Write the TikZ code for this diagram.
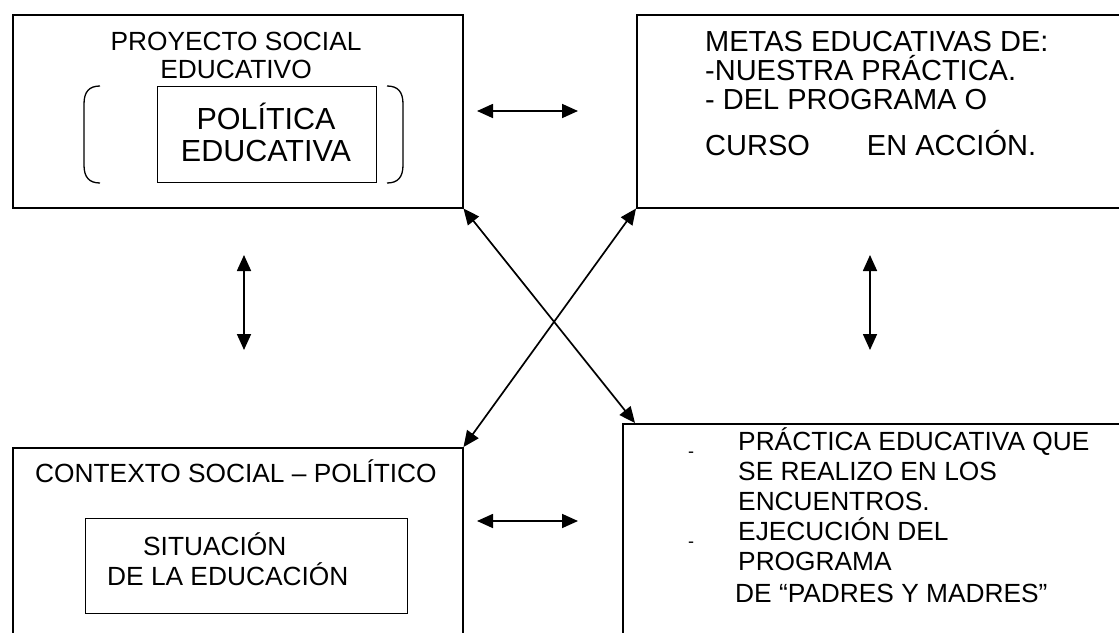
\documentclass[tikz,border=0pt]{standalone}
\usepackage{fontspec}
\setmainfont{Liberation Sans}
\usetikzlibrary{arrows.meta}
\begin{document}
\begin{tikzpicture}[x=1pt,y=-1pt,
  box/.style={draw, line width=1.5pt, rectangle, inner sep=0pt, anchor=north west},
  inbox/.style={draw, line width=1.3pt, rectangle, inner sep=0pt, anchor=north west},
  txt/.style={inner sep=0pt, font=\fontsize{26.3}{30}\selectfont},
  mtxt/.style={inner sep=0pt, font=\fontsize{29}{32}\selectfont},
  bigtxt/.style={inner sep=0pt, font=\fontsize{30.5}{33}\selectfont},
  dashtxt/.style={inner sep=0pt, font=\fontsize{18}{20}\selectfont},
  tip/.tip={Triangle[length=16pt,width=14pt]},
  arr/.style={tip-tip, line width=1.7pt},
  paren/.style={line width=1.3pt}]
\useasboundingbox (0,0) rectangle (1119,632);
\clip (0,0) rectangle (1119,632);
\fill[white] (0,0) rectangle (1119,632);
% boxes
\node[box, minimum width=450pt, minimum height=193pt] (tl) at (12,14) {};
\node[box, minimum width=500pt, minimum height=193pt] (tr) at (636,14) {};
\node[box, minimum width=450pt, minimum height=220pt] (bl) at (12,447) {};
\node[box, minimum width=510pt, minimum height=230pt] (br) at (622,423) {};
\node[inbox, minimum width=219pt, minimum height=96pt] (pol) at (157,86) {};
\node[inbox, minimum width=322pt, minimum height=95pt] (sit) at (85,518) {};
% parentheses
\draw[paren] (100,86) .. controls (89,86) and (84,92) .. (84,104) -- (84,165) .. controls (84,177) and (89,183) .. (100,183);
\draw[paren] (387,86) .. controls (398,86) and (403,92) .. (403,104) -- (403,165) .. controls (403,177) and (398,183) .. (387,183);
% top-left text
\node[txt, anchor=base] (t1) at (236,50) {PROYECTO SOCIAL};
\node[txt, anchor=base] (t2) at (236,78) {EDUCATIVO};
\node[bigtxt, anchor=base] (t3) at (266,129) {POLÍTICA};
\node[bigtxt, anchor=base] (t4) at (266,161) {EDUCATIVA};
% top-right text
\node[mtxt, anchor=base west] (m1) at (705,51) {METAS EDUCATIVAS DE:};
\node[mtxt, anchor=base west] (m2) at (705,80) {-NUESTRA PRÁCTICA.};
\node[mtxt, anchor=base west] (m3) at (705,109) {- DEL PROGRAMA O};
\node[mtxt, anchor=base west] (m4) at (705,155) {CURSO\hspace{57pt}EN ACCIÓN.};
% bottom-left text
\node[txt, anchor=base west] (c1) at (35,482) {CONTEXTO SOCIAL – POLÍTICO};
\node[txt, anchor=base west] (c2) at (143,555) {SITUACIÓN};
\node[txt, anchor=base west] (c3) at (107,585) {DE LA EDUCACIÓN};
% bottom-right text
\node[dashtxt, anchor=base west] (d1) at (688,457) {-};
\node[dashtxt, anchor=base west] (d2) at (688,547) {-};
\node[txt, anchor=base west] (p1) at (738,450) {PRÁCTICA EDUCATIVA QUE};
\node[txt, anchor=base west] (p2) at (738,480) {SE REALIZO EN LOS};
\node[txt, anchor=base west] (p3) at (738,510) {ENCUENTROS.};
\node[txt, anchor=base west] (p4) at (738,540) {EJECUCIÓN DEL};
\node[txt, anchor=base west] (p5) at (738,570) {PROGRAMA};
\node[txt, anchor=base west] (p6) at (735,602) {DE “PADRES Y MADRES”};
% free arrow ends
\coordinate (ha1) at (477,111);
\coordinate (hb1) at (578,111);
\coordinate (ha2) at (477,521);
\coordinate (hb2) at (578,521);
\coordinate (va1) at (244,255);
\coordinate (vb1) at (244,350);
\coordinate (va2) at (870,255);
\coordinate (vb2) at (870,350);
% connectors
\draw[arr] (ha1) -- (hb1);
\draw[arr] (ha2) -- (hb2);
\draw[arr] (va1) -- (vb1);
\draw[arr] (va2) -- (vb2);
\draw[arr] (tl.south east) -- ([xshift=13pt]br.north west);
\draw[arr] (tr.south west) -- (bl.north east);
\end{tikzpicture}
\end{document}
